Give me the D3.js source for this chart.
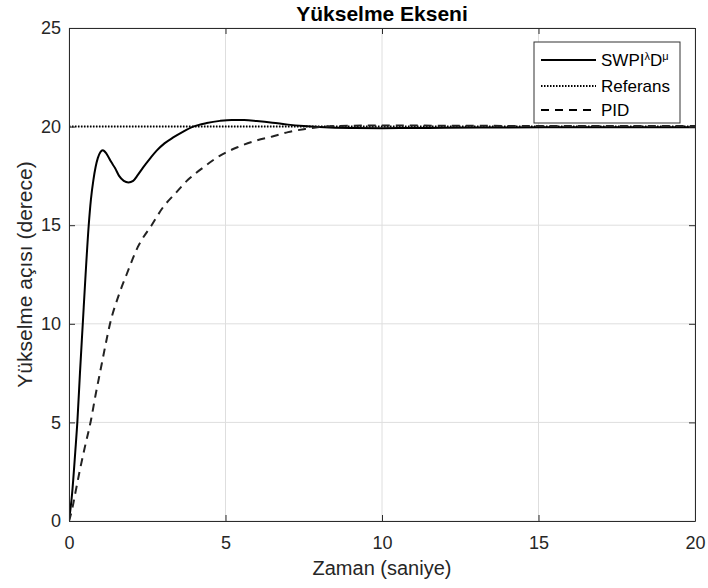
<!DOCTYPE html>
<html>
<head>
<meta charset="utf-8">
<script src="https://cdn.jsdelivr.net/npm/d3@7"></script>
<style>
  html, body { margin: 0; padding: 0; background: #fff; }
  svg { display: block; font-family: "Liberation Sans", Arial, Helvetica, sans-serif; }
</style>
</head>
<body>
<svg id="chart" width="708" height="588"></svg>
<script>
// Step responses of the elevation axis (time in s, angle in degrees)
const swpiTime  = [0, 0.1, 0.2, 0.27, 0.35, 0.44, 0.53, 0.63, 0.7, 0.78, 0.85, 0.92, 1.0, 1.08, 1.2, 1.35, 1.47, 1.6, 1.75, 1.9, 2.05, 2.2, 2.37, 2.6, 2.8, 3.05, 3.33, 3.65, 3.97, 4.4, 4.82, 5.2, 5.6, 6.0, 6.5, 7.0, 7.5, 8.0, 9.0, 10, 11, 12, 14, 16, 20];
const swpiValue = [0, 1.4, 3.5, 5.1, 7.5, 10, 12.5, 15, 16.3, 17.3, 17.95, 18.4, 18.7, 18.8, 18.62, 18.2, 17.9, 17.5, 17.25, 17.17, 17.25, 17.55, 17.93, 18.4, 18.78, 19.15, 19.45, 19.75, 20.0, 20.18, 20.29, 20.34, 20.33, 20.28, 20.2, 20.1, 20.03, 19.98, 19.93, 19.92, 19.93, 19.94, 19.96, 19.97, 19.97];

const refTime  = [0, 20];
const refValue = [20, 20];

const pidTime  = [0, 0.1, 0.2, 0.35, 0.5, 0.7, 0.85, 1.0, 1.15, 1.31, 1.6, 1.84, 2.2, 2.64, 3.0, 3.39, 3.8, 4.29, 4.8, 5.36, 6.0, 6.5, 7.0, 7.5, 8.0, 8.5, 9.5, 11, 13, 16, 20];
const pidValue = [0, 0.6, 1.4, 2.6, 3.7, 5.1, 6.4, 7.6, 8.8, 10, 11.5, 12.5, 13.9, 15, 15.9, 16.6, 17.3, 17.93, 18.5, 18.94, 19.3, 19.5, 19.72, 19.87, 19.98, 20.03, 20.05, 20.05, 20.04, 20.03, 20.03];

const xTicks = [0, 5, 10, 15, 20];
const yTicks = [0, 5, 10, 15, 20, 25];

const titleText  = "Yükselme Ekseni";
const xLabelText = "Zaman (saniye)";
const yLabelText = "Yükselme açısı (derece)";

// Plot geometry
const margin = { left: 69, right: 13, top: 28, bottom: 67 };
const W = 708, H = 588;
const iw = W - margin.left - margin.right;
const ih = H - margin.top - margin.bottom;

const svg = d3.select("#chart");
const g = svg.append("g").attr("transform", `translate(${margin.left},${margin.top})`);

const x = d3.scaleLinear().domain([0, 20]).range([0, iw]);
const y = d3.scaleLinear().domain([0, 25]).range([ih, 0]);

const axisColor = "#2b2b2b";
const tickFont = 18;

// Grid lines
g.append("g").selectAll("line.gx").data(xTicks).join("line")
  .attr("x1", d => x(d)).attr("x2", d => x(d))
  .attr("y1", 0).attr("y2", ih)
  .attr("stroke", "#dedede").attr("stroke-width", 1);
g.append("g").selectAll("line.gy").data(yTicks).join("line")
  .attr("x1", 0).attr("x2", iw)
  .attr("y1", d => y(d)).attr("y2", d => y(d))
  .attr("stroke", "#dedede").attr("stroke-width", 1);

// Clip for the data lines
svg.append("defs").append("clipPath").attr("id", "plotClip")
  .append("rect").attr("x", 0).attr("y", 0).attr("width", iw).attr("height", ih);

const lineGen = d3.line()
  .x(d => x(d[0])).y(d => y(d[1]))
  .curve(d3.curveMonotoneX);

const lines = g.append("g").attr("clip-path", "url(#plotClip)");

lines.append("path")
  .datum(d3.zip(swpiTime, swpiValue))
  .attr("d", lineGen)
  .attr("fill", "none").attr("stroke", "#000").attr("stroke-width", 2);

lines.append("path")
  .datum(d3.zip(refTime, refValue))
  .attr("d", lineGen)
  .attr("fill", "none").attr("stroke", "#000").attr("stroke-width", 2)
  .attr("stroke-dasharray", "1.5,1.5");

lines.append("path")
  .datum(d3.zip(pidTime, pidValue))
  .attr("d", lineGen)
  .attr("fill", "none").attr("stroke", "#222").attr("stroke-width", 2)
  .attr("stroke-dasharray", "8,6");

// Axes (ticks pointing inward, boxed)
function styleAxis(sel) {
  sel.select(".domain").attr("stroke", axisColor).attr("stroke-width", 1);
  sel.selectAll(".tick line").attr("stroke", axisColor);
  sel.selectAll(".tick text").attr("fill", "#262626")
    .style("font-size", tickFont + "px")
    .style("font-family", "'Liberation Sans', Arial, sans-serif");
}

const xAxis = g.append("g").attr("transform", `translate(0,${ih})`)
  .call(d3.axisBottom(x).tickValues(xTicks).tickFormat(d3.format("d"))
        .tickSizeInner(-6).tickSizeOuter(0).tickPadding(10));
styleAxis(xAxis);
xAxis.selectAll(".tick text").attr("dy", "0.71em").attr("y", 15);

const xAxisTop = g.append("g")
  .call(d3.axisTop(x).tickValues(xTicks).tickFormat("")
        .tickSizeInner(-6).tickSizeOuter(0));
styleAxis(xAxisTop);

const yAxis = g.append("g")
  .call(d3.axisLeft(y).tickValues(yTicks).tickFormat(d3.format("d"))
        .tickSizeInner(-6).tickSizeOuter(0).tickPadding(8));
styleAxis(yAxis);
yAxis.selectAll(".tick text").attr("x", -8);

const yAxisRight = g.append("g").attr("transform", `translate(${iw},0)`)
  .call(d3.axisRight(y).tickValues(yTicks).tickFormat("")
        .tickSizeInner(-6).tickSizeOuter(0));
styleAxis(yAxisRight);

// Title and axis labels
svg.append("text")
  .attr("x", margin.left + iw / 2).attr("y", 21)
  .attr("text-anchor", "middle")
  .style("font-size", "21px").style("font-weight", "bold")
  .attr("fill", "#000")
  .text(titleText);

svg.append("text")
  .attr("x", margin.left + iw / 2).attr("y", 575)
  .attr("text-anchor", "middle")
  .style("font-size", "20px")
  .attr("fill", "#262626")
  .text(xLabelText);

svg.append("text")
  .attr("transform", `translate(32,${margin.top + ih / 2}) rotate(-90)`)
  .attr("text-anchor", "middle")
  .style("font-size", "21px")
  .attr("fill", "#262626")
  .text(yLabelText);

// Legend
const legend = svg.append("g").attr("transform", "translate(534,42)");
legend.append("rect")
  .attr("x", 0).attr("y", 0).attr("width", 146).attr("height", 81)
  .attr("fill", "#fff").attr("stroke", "#333").attr("stroke-width", 1);

const legendItems = [
  { dash: null, width: 2 },
  { dash: "1.5,1.5", width: 2 },
  { dash: "8,6", width: 2 }
];
const rowY = [18, 44, 68];

legendItems.forEach((it, i) => {
  legend.append("line")
    .attr("x1", 7).attr("x2", 62)
    .attr("y1", rowY[i]).attr("y2", rowY[i])
    .attr("stroke", "#000").attr("stroke-width", it.width)
    .attr("stroke-dasharray", it.dash);
});

const legFont = 17;
const t0 = legend.append("text").attr("x", 67).attr("y", rowY[0] + 6)
  .style("font-size", legFont + "px").attr("fill", "#000");
t0.append("tspan").text("SWPI");
t0.append("tspan").attr("dy", -6).style("font-size", "11px").text("λ");
t0.append("tspan").attr("dy", 6).text("D");
t0.append("tspan").attr("dy", -6).style("font-size", "11px").text("μ");

legend.append("text").attr("x", 67).attr("y", rowY[1] + 6)
  .style("font-size", legFont + "px").attr("fill", "#000").text("Referans");
legend.append("text").attr("x", 67).attr("y", rowY[2] + 6)
  .style("font-size", legFont + "px").attr("fill", "#000").text("PID");
</script>
</body>
</html>
